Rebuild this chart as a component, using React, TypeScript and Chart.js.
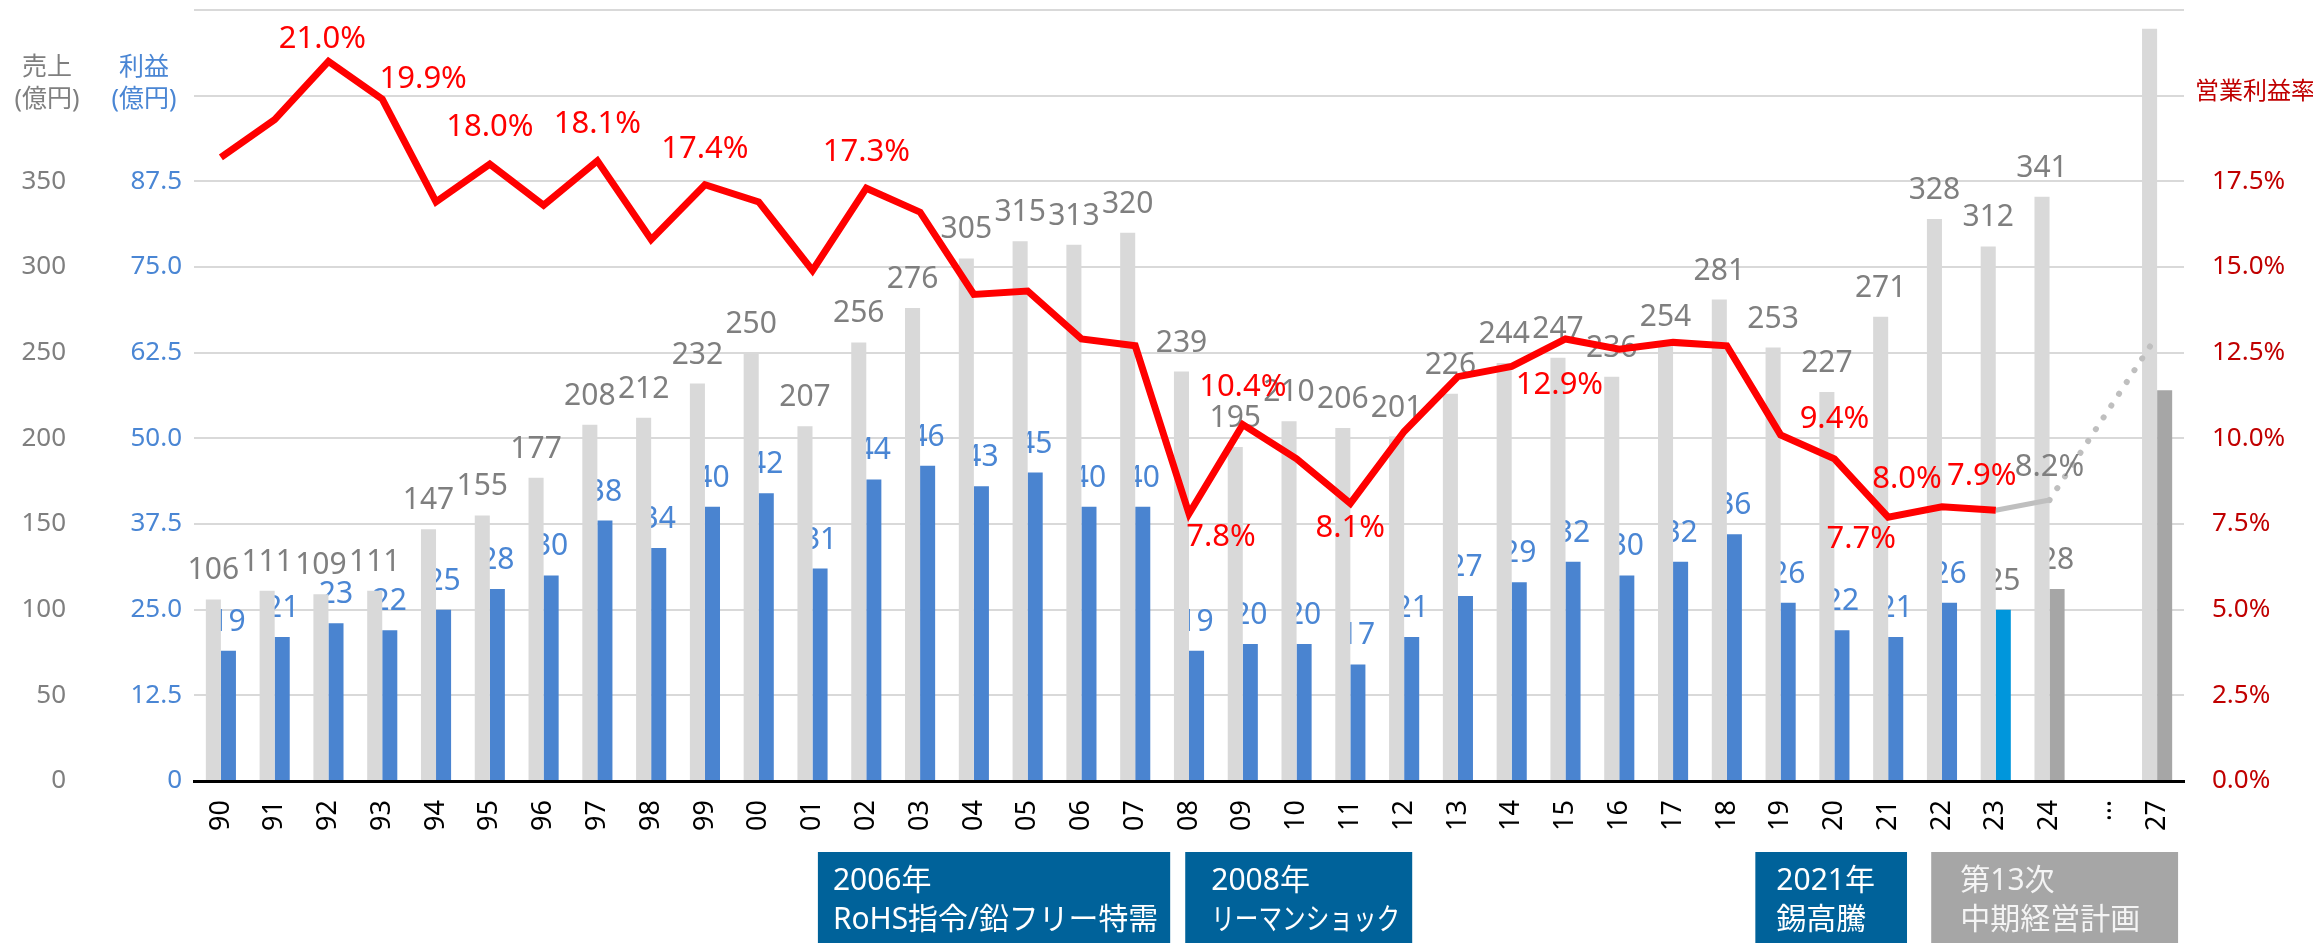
import React, { useEffect, useRef } from 'react';
import { Chart, registerables } from 'chart.js';

Chart.register(...registerables);

// ---------- data ----------
const categories = [
  '90', '91', '92', '93', '94', '95', '96', '97', '98', '99',
  '00', '01', '02', '03', '04', '05', '06', '07', '08', '09',
  '10', '11', '12', '13', '14', '15', '16', '17', '18', '19',
  '20', '21', '22', '23', '24', '…', '27',
];

// 売上 (億円)
const sales = [
  106, 111, 109, 111, 147, 155, 177, 208, 212, 232,
  250, 207, 256, 276, 305, 315, 313, 320, 239, 195,
  210, 206, 201, 226, 244, 247, 236, 254, 281, 253,
  227, 271, 328, 312, 341, null, 439,
];

// 利益 (億円)
const profit = [
  19, 21, 23, 22, 25, 28, 30, 38, 34, 40,
  42, 31, 44, 46, 43, 45, 40, 40, 19, 20,
  20, 17, 21, 27, 29, 32, 30, 32, 36, 26,
  22, 21, 26, 25, 28, null, 57,
];

// 営業利益率 (%) actual
const marginActual = [
  18.2, 19.3, 21.0, 19.9, 16.9, 18.0, 16.8, 18.1, 15.8, 17.4,
  16.9, 14.9, 17.3, 16.6, 14.2, 14.3, 12.9, 12.7, 7.8, 10.4,
  9.4, 8.1, 10.2, 11.8, 12.1, 12.9, 12.6, 12.8, 12.7, 10.1,
  9.4, 7.7, 8.0, 7.9, null, null, null,
];

// 営業利益率 (%) plan
const marginPlan = [
  null, null, null, null, null, null, null, null, null, null,
  null, null, null, null, null, null, null, null, null, null,
  null, null, null, null, null, null, null, null, null, null,
  null, null, null, null, 8.2, null, 13.0,
];

const unlabelledCategories = ['27'];
const currentYear = '23';
const planYears = ['24', '27'];

// rate labels: [category, dx, dy]
const rateLabels: [string, number, number][] = [
  ['92', -6, -22], ['93', 41, -20], ['95', 0, -37], ['97', 0, -37], ['99', 0, -36],
  ['02', 0, -36], ['08', 32, 23], ['09', 0, -37], ['11', 0, 25], ['15', -6, 46],
  ['20', 0, -40], ['21', -27, 22], ['22', -35, -28], ['23', -14, -34], ['24', 0, -33],
];

// bottom notes, spanning category positions
const periodNotes = [
  { lines: ['2006年', 'RoHS指令/鉛フリー特需'], from: 11.1, to: 17.65, fill: '#00629a', text: '#ffffff', pad: 15 },
  { lines: ['2008年', 'リーマンショック'], from: 17.93, to: 22.15, fill: '#00629a', text: '#ffffff', pad: 26 },
  { lines: ['2021年', '錫高騰'], from: 28.53, to: 31.35, fill: '#00629a', text: '#ffffff', pad: 21 },
  { lines: ['第13次', '中期経営計画'], from: 31.8, to: 36.39, fill: '#a6a6a6', text: '#f4f4f4', pad: 29 },
];

// ---------- styles ----------
const FONT = '"Noto Sans", "Noto Sans CJK JP", sans-serif';
const GRAY_TEXT = '#7f7f7f';
const BLUE_TEXT = '#4a86d4';
const RED_AXIS = '#c00000';
const RED_LINE = '#ff0000';
const SALES_COLOR = '#d9d9d9';
const PROFIT_COLOR = '#4a84d0';
const CURRENT_COLOR = '#0096dc';
const PLAN_COLOR = '#a6a6a6';

const profitColors = categories.map((c) =>
  planYears.includes(c) ? PLAN_COLOR : c === currentYear ? CURRENT_COLOR : PROFIT_COLOR
);
const profitLabelColor = (c: string) =>
  planYears.includes(c) || c === currentYear ? GRAY_TEXT : BLUE_TEXT;

const valueLabelPlugin = {
  id: 'valueLabels',
  afterDatasetDraw(chart: any, args: any) {
    const ds = chart.data.datasets[args.index];
    if (ds.key !== 'sales' && ds.key !== 'profit') return;
    const c = chart.ctx;
    c.save();
    c.font = `30px ${FONT}`;
    c.textAlign = 'center';
    c.textBaseline = 'alphabetic';
    args.meta.data.forEach((el: any, i: number) => {
      const v = ds.data[i];
      if (v == null || unlabelledCategories.includes(categories[i])) return;
      c.fillStyle = ds.key === 'sales' ? GRAY_TEXT : profitLabelColor(categories[i]);
      c.fillText(String(v), el.x, el.y - 20);
    });
    c.restore();
  },
};

const rateLabelPlugin = {
  id: 'rateLabels',
  afterDatasetsDraw(chart: any) {
    const c = chart.ctx;
    const xs = chart.scales.x;
    const ys = chart.scales.yRate;
    c.save();
    c.font = `31px ${FONT}`;
    c.textAlign = 'center';
    c.textBaseline = 'middle';
    rateLabels.forEach(([cat, dx, dy]) => {
      const i = categories.indexOf(cat);
      const actual = marginActual[i];
      const v = actual != null ? actual : marginPlan[i];
      if (v == null) return;
      c.fillStyle = actual != null ? RED_LINE : GRAY_TEXT;
      c.fillText(v.toFixed(1) + '%', xs.getPixelForValue(i) + dx, ys.getPixelForValue(v) + dy);
    });
    c.restore();
  },
};

const decorPlugin = {
  id: 'decor',
  afterDraw(chart: any) {
    const c = chart.ctx;
    const xs = chart.scales.x;
    c.save();
    // axis titles
    c.textBaseline = 'middle';
    c.textAlign = 'center';
    c.font = `25px ${FONT}`;
    c.fillStyle = GRAY_TEXT;
    c.fillText('売上', 47, 68);
    c.fillText('(億円)', 47, 100);
    c.fillStyle = BLUE_TEXT;
    c.fillText('利益', 144, 68);
    c.fillText('(億円)', 144, 100);
    c.textAlign = 'left';
    c.font = `24px ${FONT}`;
    c.fillStyle = RED_AXIS;
    c.fillText('営業利益率', 2195, 92);
    // period notes
    c.font = `30px ${FONT}`;
    periodNotes.forEach((n) => {
      const x0 = xs.getPixelForValue(n.from);
      const x1 = xs.getPixelForValue(n.to);
      c.fillStyle = n.fill;
      c.fillRect(x0, 852, x1 - x0, 120);
      c.fillStyle = n.text;
      c.textAlign = 'left';
      const maxW = x1 - x0 - n.pad - 12;
      c.fillText(n.lines[0], x0 + n.pad, 881, maxW);
      c.fillText(n.lines[1], x0 + n.pad, 920, maxW);
    });
    c.restore();
  },
};

const fitY = (w: number) => (s: any) => {
  s.width = w;
  s.paddingTop = 0;
  s.paddingBottom = 0;
};

export default function App() {
  const ref = useRef<HTMLCanvasElement>(null);

  useEffect(() => {
    const canvas = ref.current;
    if (!canvas) return;
    const lastActual = marginActual.reduce((acc: number, v, i) => (v != null ? i : acc), -1);
    const firstPlan = marginPlan.findIndex((v) => v != null);
    const bridge = categories.map((_, i) =>
      i === lastActual ? marginActual[i] : i === firstPlan ? marginPlan[i] : null
    );

    const chart = new Chart(canvas, {
      type: 'bar',
      data: {
        labels: categories,
        datasets: [
          {
            key: 'rate', type: 'line', data: marginActual, yAxisID: 'yRate',
            borderColor: RED_LINE, borderWidth: 7, pointRadius: 0, order: 0, tension: 0,
          },
          {
            key: 'bridge', type: 'line', data: bridge, yAxisID: 'yRate',
            borderColor: '#bfbfbf', borderWidth: 5, pointRadius: 0, order: 1, spanGaps: true,
          },
          {
            key: 'plan', type: 'line', data: marginPlan, yAxisID: 'yRate',
            borderColor: '#bfbfbf', borderWidth: 6, borderDash: [0.1, 14], borderCapStyle: 'round',
            pointRadius: 0, order: 1, spanGaps: true,
          },
          {
            key: 'sales', type: 'bar', data: sales, yAxisID: 'ySales',
            backgroundColor: SALES_COLOR, order: 2, categoryPercentage: 0.56, barPercentage: 1,
          },
          {
            key: 'profit', type: 'bar', data: profit, yAxisID: 'yProfit',
            backgroundColor: profitColors, order: 2, categoryPercentage: 0.56, barPercentage: 1,
          },
        ] as any,
      },
      options: {
        animation: false,
        responsive: true,
        maintainAspectRatio: false,
        layout: { padding: { top: 10, left: 0, right: 0, bottom: 0 } },
        plugins: { legend: { display: false }, tooltip: { enabled: false } },
        scales: {
          x: {
            type: 'category',
            offset: true,
            grid: { display: false, drawTicks: false },
            border: { display: true, color: '#000000', width: 3, z: 1 },
            ticks: {
              color: '#000000', font: { size: 27, family: FONT },
              minRotation: 90, maxRotation: 90, padding: 19, autoSkip: false,
            },
            afterFit: (s: any) => {
              s.height = 162;
              s.paddingLeft = 0;
              s.paddingRight = 0;
            },
          },
          ySales: {
            position: 'left', weight: 2, min: 0, max: 450,
            grid: { display: false, drawTicks: false }, border: { display: false },
            ticks: {
              stepSize: 50, color: GRAY_TEXT, padding: 34, font: { size: 26, family: FONT },
              callback: (v: any) => (v > 350 ? '' : String(v)),
            },
            afterFit: fitY(100),
          },
          yProfit: {
            position: 'left', weight: 1, min: 0, max: 112.5,
            grid: { display: false, drawTicks: false }, border: { display: false },
            ticks: {
              stepSize: 12.5, color: BLUE_TEXT, padding: 12, font: { size: 26, family: FONT },
              callback: (v: any) => (v > 87.5 ? '' : v === 0 ? '0' : Number(v).toFixed(1)),
            },
            afterFit: fitY(94),
          },
          yRate: {
            position: 'right', min: 0, max: 22.5,
            grid: { color: '#d9d9d9', lineWidth: 2, drawTicks: false }, border: { display: false },
            ticks: {
              stepSize: 2.5, color: RED_AXIS, padding: 28, font: { size: 26, family: FONT },
              callback: (v: any) => (v > 17.5 ? '' : Number(v).toFixed(1) + '%'),
            },
            afterFit: fitY(129),
          },
        } as any,
      },
      plugins: [valueLabelPlugin, rateLabelPlugin, decorPlugin],
    } as any);

    return () => chart.destroy();
  }, []);

  return (
    <div style={{ position: 'fixed', left: 0, top: 0, width: '100vw', height: '100vh', background: '#ffffff' }}>
      <canvas ref={ref} />
    </div>
  );
}
